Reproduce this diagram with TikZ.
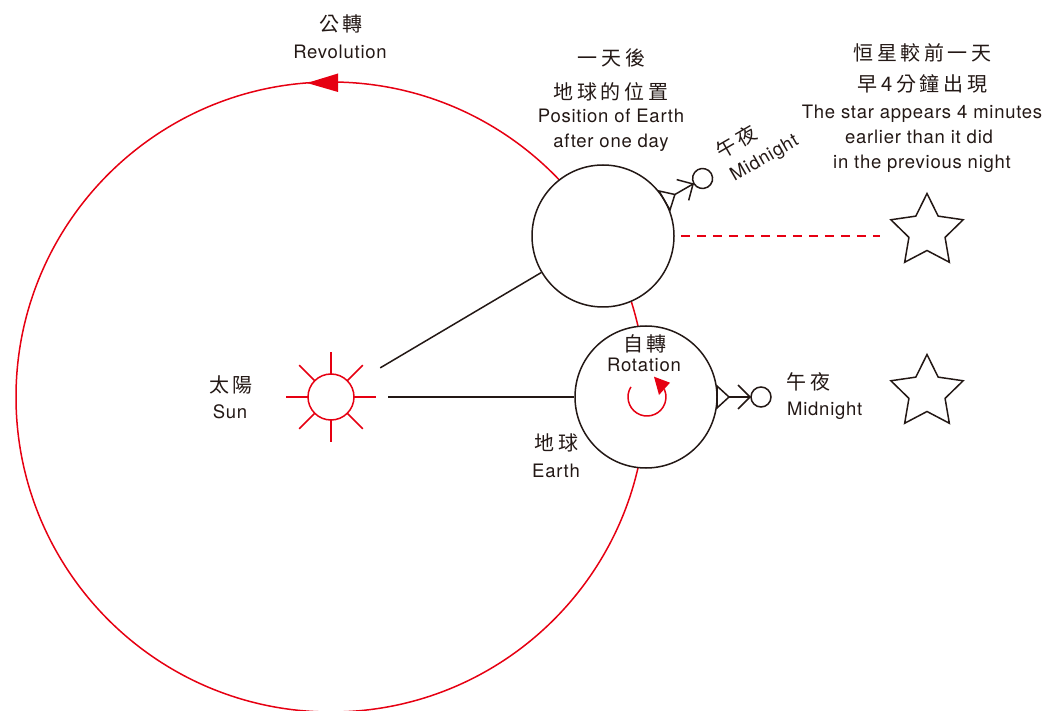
\documentclass[tikz,border=0pt]{standalone}
\usepackage{fontspec}
\setmainfont{TeX Gyre Heros}[LetterSpace=4]
\newfontfamily\cjk{Noto Sans CJK TC}[LetterSpace=18]
\usetikzlibrary{shapes.geometric}

\definecolor{inkred}{HTML}{E60012}
\definecolor{ink}{HTML}{231815}

\begin{document}
\begin{tikzpicture}[x=1pt,y=-1pt,
  orbitline/.style={draw=inkred, line width=1.5pt},
  body/.style={circle, draw=ink, fill=white, line width=1.5pt, inner sep=0pt, minimum size=142pt},
  link/.style={draw=ink, line width=1.5pt},
  sunray/.style={draw=inkred, line width=1.5pt},
  figure/.style={draw=ink, line width=1.5pt, line join=miter},
  headnode/.style={circle, draw=ink, line width=1.5pt, inner sep=0pt, minimum size=20pt, fill=white},
  zh/.style={text=ink, inner sep=0pt, font=\cjk\fontsize{20}{24}\selectfont},
  en/.style={text=ink, inner sep=0pt, font=\fontsize{18.5}{22}\selectfont},
  starnode/.style={star, star points=5, star point ratio=2, minimum size=76pt, inner sep=0pt, draw=ink, line width=1.5pt},
  observer/.pic={
    % little observer standing on the globe, facing outward
    \draw[figure] (71,-11) -- (83,0) -- (71,11) -- cycle;
    \node[headnode] (-head) at (115,0) {};
    \draw[figure] (83,0) -- (-head);
    \draw[figure] (92,-12) -- (104,0) -- (92,12);
    \node[zh, anchor=center] (-zh) at (162.5,-15) {午夜};
    \node[en, anchor=base west] (-en) at (141,18.7) {Midnight};
  },
]
\useasboundingbox (0,0) rectangle (1050,711);

% orbit of the Earth around the Sun
\coordinate (sunc) at (331,397);
\draw[orbitline] (sunc) circle[radius=315];
\fill[inkred] (307,83) -- (338,73.5) -- (338,92) -- cycle;

% the Sun
\node[circle, draw=inkred, line width=1.5pt, minimum size=46pt, inner sep=0pt] (sun) at (sunc) {};
\foreach \a in {0,45,...,315}
  \draw[sunray] ([shift={(\a:23.3)}]sunc) -- ([shift={(\a:45)}]sunc);
\node[circle, minimum size=114pt, inner sep=0pt] (sunhalo) at (sunc) {};

% the Earth today and one day later
\node[body] (earth) at (646,397) {};
\node[body] (earthnext) at (603,236) {};
\draw[link] (sunhalo) -- (earth);
\draw[link] (sunhalo) -- (earthnext);

% rotation arrow
\draw[inkred, line width=1.5pt] (647,397) ++(-148:19) arc[start angle=-148, end angle=-384, radius=19];
\fill[inkred] (654,376.7) -- (670,382.7) -- (659,395) -- cycle;

% stars
\node[starnode] (star) at (927,231.5) {};
\node[starnode] (starnow) at (927,392.5) {};
\coordinate (sightend) at (880,236);
\draw[inkred, line width=1.5pt, dash pattern=on 9pt off 7pt] ([xshift=6pt]earthnext.east) -- (sightend);

% observers at midnight
\pic (obsnow) at (earth.center) {observer};
\pic[rotate=30, transform shape] (obsnext) at (earthnext.center) {observer};

% labels
\node[zh] (revzh) at (341,24) {公轉};
\node[en, anchor=base] (reven) at (340,59) {Revolution};
\node[zh] (nextzh1) at (611.5,58) {一天後};
\node[zh] (nextzh2) at (611,91.5) {地球的位置};
\node[en, anchor=base] (nexten1) at (611,122.5) {Position of Earth};
\node[en, anchor=base] (nexten2) at (611,147.5) {after one day};
\node[zh] (starzh1) at (922.5,52.5) {恒星較前一天};
\node[zh] (starzh2) at (922.5,84) {早4分鐘出現};
\node[en, anchor=base] (staren1) at (922,118.3) {The star appears 4 minutes};
\node[en, anchor=base] (staren2) at (919,143.3) {earlier than it did};
\node[en, anchor=base] (staren3) at (922,169) {in the previous night};
\node[zh] (sunzh) at (231,385) {太陽};
\node[en, anchor=base] (sunen) at (230,418.3) {Sun};
\node[zh] (earthzh) at (556.5,443) {地球};
\node[en, anchor=base] (earthen) at (556,477) {Earth};
\node[zh] (spinzh) at (645,344) {自轉};
\node[en, anchor=base] (spinen) at (644,371.7) {Rotation};
\end{tikzpicture}
\end{document}
